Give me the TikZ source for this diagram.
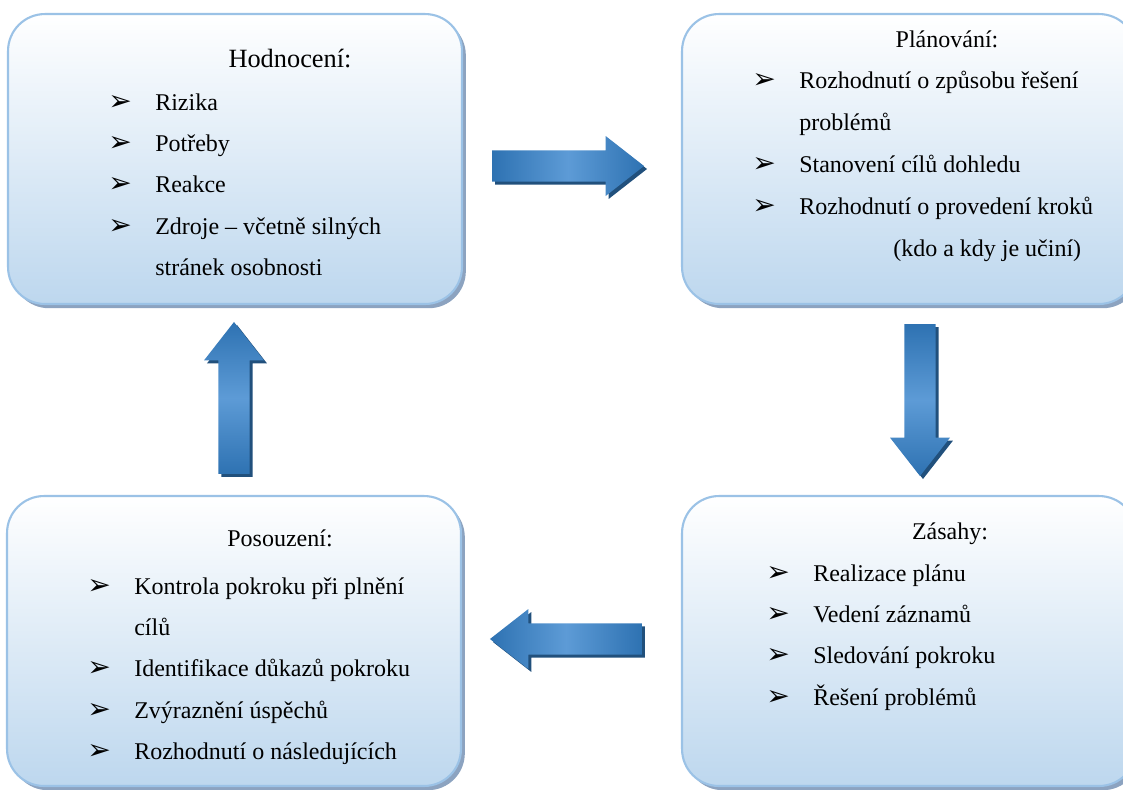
\documentclass[tikz,border=0pt]{standalone}
\usepackage{fontspec}
\setmainfont{Liberation Serif}
\newfontfamily\dingfont{DejaVu Sans}
\usepackage{xcolor}
\usepackage{tikz}
\usetikzlibrary{shapes.arrows,shadows}
\definecolor{boxline}{RGB}{155,194,230}
\definecolor{boxfill}{RGB}{189,215,238}
\definecolor{boxshade}{RGB}{140,163,192}
\definecolor{arrdark}{RGB}{46,114,178}
\definecolor{arrlight}{RGB}{93,155,214}
\definecolor{arrshade}{RGB}{33,80,124}
\newcommand{\bul}{\makebox[26.7pt][l]{\dingfont\fontsize{16}{16}\selectfont ➢}}
\newcommand{\cont}{\hspace*{26.7pt}}

\begin{document}
\begin{tikzpicture}[x = .02cm, y = -.02cm,
  phase/.style = {draw = boxline, line width = 1.2pt, rounded corners = 21pt,
    minimum width = 9.08cm, minimum height = 5.8cm, inner sep = 0pt,
    top color = white, bottom color = boxfill,
    drop shadow = {shadow xshift = 2.2pt, shadow yshift = -2.4pt, fill = boxshade, opacity = 1}},
  blockarrow/.style = {single arrow, minimum height = 3.04cm, minimum width = 1.2cm,
    single arrow head extend = .28cm, single arrow tip angle = 76, inner sep = .3cm,
    drop shadow = {shadow xshift = 1.7pt, shadow yshift = -1.7pt, fill = arrshade, opacity = 1}},
  harrow/.style = {blockarrow, left color = arrdark, right color = arrdark, middle color = arrlight},
  varrow/.style = {blockarrow, top color = arrdark, bottom color = arrdark, middle color = arrlight},
  title/.style = {inner sep = 0pt, anchor = base, font = \fontsize{13.66}{16}\selectfont},
  items/.style = {inner sep = 0pt, anchor = base west, font = \fontsize{13.66}{23.6}\selectfont}]
\path[use as bounding box] (0,0) rectangle (1123,789);
\clip (0,0) rectangle (1123,789);

\node[phase] (hod) at (235,159) {};
\node[phase] (pla) at (909,159) {};
\node[phase] (pos) at (234,641) {};
\node[phase] (zas) at (909,641) {};

\node[harrow] (hodpla) at (558,166) {};
\node[varrow, shape border rotate = 270] (plazas) at (920,390) {};
\node[harrow, shape border rotate = 180] (zaspos) at (576,639) {};
\node[varrow, shape border rotate = 90] (poshod) at (234,408) {};

\node[title, font = \fontsize{15}{18}\selectfont] (hodT) at (290,67) {Hodnocení:};
\node[items] (hodL) at (108,110) {\begin{tabular}[t]{@{}l@{}}
\bul Rizika\\
\bul Potřeby\\
\bul Reakce\\
\bul Zdroje – včetně silných\\
\cont stránek osobnosti
\end{tabular}};

\node[title] (plaT) at (947,47) {Plánování:};
\node[items, font = \fontsize{13.66}{24}\selectfont] (plaL) at (752,88) {\begin{tabular}[t]{@{}l@{}}
\bul Rozhodnutí o způsobu řešení\\
\cont problémů\\
\bul Stanovení cílů dohledu\\
\bul Rozhodnutí o provedení kroků\\
\cont\hspace*{53.5pt}(kdo a kdy je učiní)
\end{tabular}};

\node[title] (posT) at (280,546) {Posouzení:};
\node[items] (posL) at (87,594) {\begin{tabular}[t]{@{}l@{}}
\bul Kontrola pokroku při plnění\\
\cont cílů\\
\bul Identifikace důkazů pokroku\\
\bul Zvýraznění úspěchů\\
\bul Rozhodnutí o následujících
\end{tabular}};

\node[title] (zasT) at (950,539) {Zásahy:};
\node[items] (zasL) at (766,581) {\begin{tabular}[t]{@{}l@{}}
\bul Realizace plánu\\
\bul Vedení záznamů\\
\bul Sledování pokroku\\
\bul Řešení problémů
\end{tabular}};
\end{tikzpicture}
\end{document}
